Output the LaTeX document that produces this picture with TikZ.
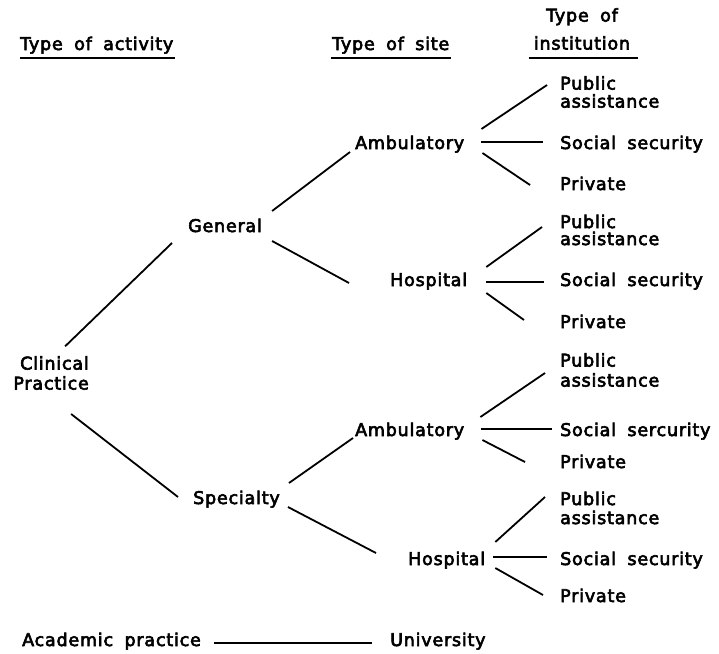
\documentclass[tikz,border=0pt]{standalone}
\usepackage{fontspec}
\usetikzlibrary{calc}
\newfontfamily\letterfam[LetterSpace=4.5,WordSpace=1.8,FakeBold=3.5]{DejaVu Sans}
\newcommand\lettfont{\letterfam\fontsize{17.5}{18}\selectfont}
\tikzset{
  lbl/.style={font=\lettfont, inner sep=0pt, anchor=base west, text height=13pt, text depth=4pt},
  multi/.style={font=\lettfont, inner sep=0pt, anchor=west, align=left},
  hdr/.style={font=\lettfont, inner sep=0pt, anchor=base west},
  link/.style={line width=1.8pt},
  uline/.style={line width=2.4pt}
}
\begin{document}
\begin{tikzpicture}[x=1pt,y=-1pt]
\useasboundingbox (0,0) rectangle (719,653);
% headers
\node[hdr] (hact) at (20,50) {Type of activity};
\node[hdr] (hsite) at (332,50) {Type of site};
\node[font=\lettfont, inner sep=0pt, anchor=south, align=center] (hinst) at (582,50) {Type of\\[10pt]institution};
\draw[uline] ($(hact.base west)+(0,8)$) -- ($(hact.base east)+(2,8)$);
\draw[uline] ($(hsite.base west)+(-1,8)$) -- ($(hsite.base east)+(2,8)$);
\draw[uline] ($(hinst.south west)+(-5,8)$) -- ($(hinst.south east)+(8,8)$);
% nodes
\node[multi, anchor=east, align=right] (clin) at (89,373) {Clinical\\[2pt]Practice};
\node[lbl] (gen) at (188,232) {General};
\node[lbl] (spec) at (193,504) {Specialty};
\node[lbl] (amb1) at (355,149) {Ambulatory};
\node[lbl] (hosp1) at (390,286) {Hospital};
\node[lbl] (amb2) at (355,436) {Ambulatory};
\node[lbl] (hosp2) at (408,565) {Hospital};
\node[multi] (pa1) at (560,92) {Public\\assistance};
\node[lbl] (ss1) at (560,149) {Social security};
\node[lbl] (pr1) at (560,190) {Private};
\node[multi] (pa2) at (560,230) {Public\\[-1pt]assistance};
\node[lbl] (ss2) at (560,286) {Social security};
\node[lbl] (pr2) at (560,328) {Private};
\node[multi] (pa3) at (560,370) {Public\\[2pt]assistance};
\node[lbl] (ss3) at (560,436) {Social sercurity};
\node[lbl] (pr3) at (560,468) {Private};
\node[multi] (pa4) at (560,508) {Public\\[1pt]assistance};
\node[lbl] (ss4) at (560,565) {Social security};
\node[lbl] (pr4) at (560,602) {Private};
\node[lbl] (acad) at (22,646) {Academic practice};
\node[lbl] (univ) at (390,646) {University};
% connectors
\draw[link] ($(clin.north)+(14,-9.7)$) -- ($(gen.west)+(-16,15.5)$);
\draw[link] ($(gen.east)+(10,-16.5)$) -- ($(amb1.west)+(-5,7.5)$);
\draw[link] ($(gen.east)+(10,13.5)$) -- ($(hosp1.west)+(-41,1.5)$);
\draw[link] ($(clin.south)+(20,24)$) -- ($(spec.west)+(-15,-2.5)$);
\draw[link] ($(spec.east)+(9,-16.5)$) -- ($(amb2.west)+(-2,6.5)$);
\draw[link] ($(spec.east)+(8,7.5)$) -- ($(hosp2.west)+(-32,-7.5)$);
\draw[link] ($(amb1.east)+(17,-15.5)$) -- ($(pa1.west)+(-13,-7)$);
\draw[link] ($(amb1.east)+(17,-2.5)$) -- ($(ss1.west)+(-17,-2.5)$);
\draw[link] ($(amb1.east)+(18,8.5)$) -- ($(pr1.west)+(-30,-0.5)$);
\draw[link] ($(hosp1.east)+(19,-14.5)$) -- ($(pa2.west)+(-18,-3)$);
\draw[link] ($(hosp1.east)+(19,0.5)$) -- ($(ss2.west)+(-16,0.5)$);
\draw[link] ($(hosp1.east)+(19,11.5)$) -- ($(pr2.west)+(-36,-3.5)$);
\draw[link] ($(amb2.east)+(16,-14.5)$) -- ($(pa3.west)+(-15,3)$);
\draw[link] ($(amb2.east)+(17,-2.5)$) -- ($(ss3.west)+(-8,-2.5)$);
\draw[link] ($(amb2.east)+(18,8.5)$) -- ($(pr3.west)+(-35,-1.5)$);
\draw[link] ($(hosp2.east)+(10,-18.5)$) -- ($(pa4.west)+(-15,-11)$);
\draw[link] ($(hosp2.east)+(8,-3.5)$) -- ($(ss4.west)+(-13,-3.5)$);
\draw[link] ($(hosp2.east)+(10,7.5)$) -- ($(pr4.west)+(-17,-2.5)$);
\draw[link] ($(acad.east)+(13,1.5)$) -- ($(univ.west)+(-18,1.5)$);
\end{tikzpicture}
\end{document}
